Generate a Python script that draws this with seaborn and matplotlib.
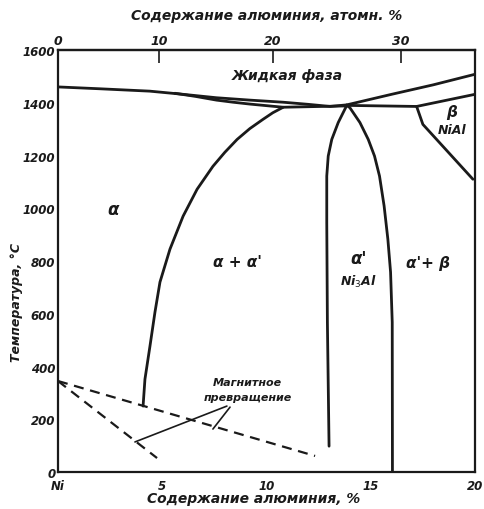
import numpy as np
import pandas as pd
import matplotlib
matplotlib.use("Agg")
import matplotlib.pyplot as plt
import seaborn as sns

# curves of the Ni-Al diagram (wt% Al, deg C)
liq_left_w = [0.0, 2.0, 4.4, 6.0, 7.6, 9.2, 10.8, 12.0, 13.05, 13.85]
liq_left_t = [1460, 1453, 1444, 1432, 1419, 1410, 1402, 1394, 1386, 1392]
liq_right_w = [13.85, 16.0, 18.0, 20.0]
liq_right_t = [1392, 1432, 1468, 1508]
sol_alpha_w = [5.6, 6.6, 7.6, 8.4, 9.2, 10.0, 10.8, 13.85]
sol_alpha_t = [1436, 1424, 1410, 1402, 1395, 1389, 1383, 1388]
solv_alpha_w = [10.8, 10.3, 9.83, 9.2, 8.59, 8.0, 7.43, 6.67, 6.0, 5.37,
                4.89, 4.65, 4.41, 4.17, 4.08]
solv_alpha_t = [1383, 1362, 1337, 1302, 1261, 1212, 1159, 1072, 970, 845,
                720, 606, 477, 352, 250]
ni3al_left_w = [13.85, 13.44, 13.13, 12.96, 12.89, 12.89, 12.92, 13.0]
ni3al_left_t = [1390, 1325, 1261, 1198, 1122, 947, 568, 98]
ni3al_right_w = [13.85, 14.0, 14.48, 14.88, 15.18, 15.42, 15.64, 15.82,
                 15.95, 16.03, 16.04]
ni3al_right_t = [1390, 1381, 1325, 1261, 1198, 1122, 1009, 883, 758, 568, 0]
sol_beta_w = [13.85, 17.2, 20.0]
sol_beta_t = [1390, 1386, 1432]
beta_w = [17.2, 17.5, 19.9]
beta_t = [1386, 1318, 1110]
mag1_w = [0.0, 12.33]
mag1_t = [345, 61]
mag2_w = [0.0, 4.75]
mag2_t = [345, 53]
lead1_w = [3.69, 8.1]
lead1_t = [114, 250]
lead2_w = [7.43, 8.25]
lead2_t = [163, 246]

y_ticks = [0, 200, 400, 600, 800, 1000, 1200, 1400, 1600]
x_ticks = [0, 5, 10, 15, 20]
x_labels = ["Ni", "5", "10", "15", "20"]
top_ticks = [0, 10, 20, 30]


def at_to_wt(a):
    a = np.asarray(a, dtype=float)
    return a * 26.98 / (a * 26.98 + (100 - a) * 58.69) * 100


def wt_to_at(w):
    w = np.asarray(w, dtype=float)
    return (w / 26.98) / (w / 26.98 + (100 - w) / 58.69) * 100


sns.set_style("white")
plt.rcParams["font.family"] = ["DejaVu Sans"]
ink = "#1a1a1a"

fig = plt.figure(figsize=(4.85, 5.10), dpi=100)
ax = fig.add_axes([0.1196, 0.0725, 0.8598, 0.8275])

solid = [
    (liq_left_w, liq_left_t), (liq_right_w, liq_right_t),
    (sol_alpha_w, sol_alpha_t), (solv_alpha_w, solv_alpha_t),
    (ni3al_left_w, ni3al_left_t), (ni3al_right_w, ni3al_right_t),
    (sol_beta_w, sol_beta_t), (beta_w, beta_t),
]
for w, t in solid:
    df = pd.DataFrame({"w": w, "t": t})
    sns.lineplot(data=df, x="w", y="t", sort=False, estimator=None,
                 color=ink, linewidth=2.0, ax=ax)

for w, t in [(mag1_w, mag1_t), (mag2_w, mag2_t)]:
    df = pd.DataFrame({"w": w, "t": t})
    sns.lineplot(data=df, x="w", y="t", sort=False, estimator=None,
                 color=ink, linewidth=1.6, ax=ax, dashes=False,
                 linestyle=(0, (4.5, 3)))

for w, t in [(lead1_w, lead1_t), (lead2_w, lead2_t)]:
    df = pd.DataFrame({"w": w, "t": t})
    sns.lineplot(data=df, x="w", y="t", sort=False, estimator=None,
                 color=ink, linewidth=1.2, ax=ax)

ax.set_xlim(0, 20)
ax.set_ylim(0, 1600)
ax.set_xticks(x_ticks)
ax.set_xticklabels(x_labels)
ax.set_yticks(y_ticks)
for s in ax.spines.values():
    s.set_linewidth(1.6)
    s.set_color(ink)
ax.tick_params(axis="both", direction="in", length=6, width=1.2, colors=ink,
               labelsize=8.5, pad=2)
ax.tick_params(axis="x", pad=5)
for lab in ax.get_xticklabels() + ax.get_yticklabels():
    lab.set_style("italic")
    lab.set_weight("bold")
ax.set_xlabel("Содержание алюминия, %", fontsize=10, style="italic",
              weight="bold", color=ink)
ax.xaxis.set_label_coords(0.47, -0.045)
ax.set_ylabel("Температура, °С", fontsize=9, style="italic",
              weight="bold", color=ink)
ax.yaxis.set_label_coords(-0.085, 0.405)

top = ax.secondary_xaxis("top", functions=(wt_to_at, at_to_wt))
top.set_xticks(top_ticks)
top.tick_params(direction="in", length=9, width=1.2, colors=ink,
                labelsize=9, pad=2)
for lab in top.get_xticklabels():
    lab.set_style("italic")
    lab.set_weight("bold")
top.spines["top"].set_linewidth(1.6)
top.set_xlabel("Содержание алюминия, атомн. %", fontsize=10, style="italic",
               weight="bold", color=ink, labelpad=11)

txt = dict(color=ink, style="italic", weight="bold", ha="center", va="center")
ax.text(11.0, 1504, "Жидкая фаза", fontsize=10, **txt)
ax.text(2.64, 996, "α", fontsize=12, **txt)
ax.text(8.6, 800, "α + α'", fontsize=11, **txt)
ax.text(14.4, 812, "α'", fontsize=12, **txt)
ax.text(14.4, 723, "Ni$_3$Al", fontsize=9, **txt)
ax.text(17.75, 795, "α'+ β", fontsize=11, **txt)
ax.text(18.9, 1368, "β", fontsize=11, **txt)
ax.text(18.9, 1298, "NiAl", fontsize=9, **txt)
ax.text(9.1, 341, "Магнитное", fontsize=8, **txt)
ax.text(9.1, 284, "превращение", fontsize=8, **txt)

fig.savefig("out.png", dpi=100)
